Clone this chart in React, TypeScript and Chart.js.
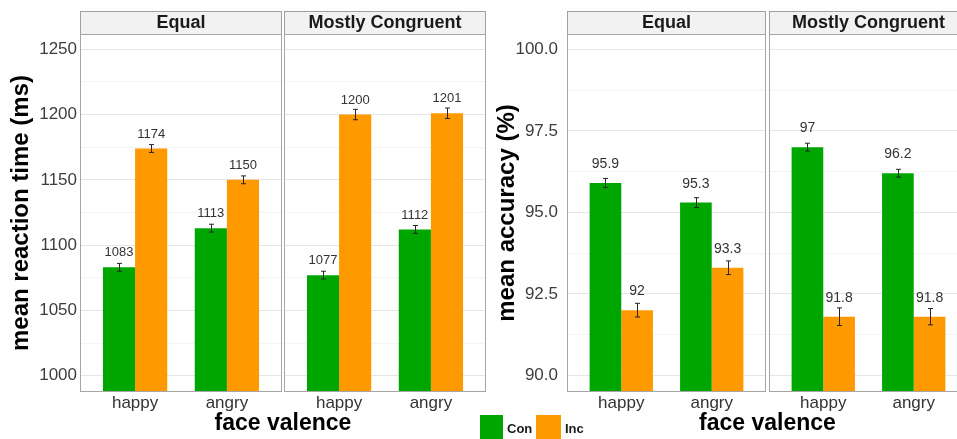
import React, { useEffect, useRef } from 'react';
import { Chart, registerables } from 'chart.js';

Chart.register(...registerables);

// ---------- data ----------
const valences = ['happy', 'angry'];
const facets = ['Equal', 'Mostly Congruent'];
const conditions = ['Con', 'Inc'];
const conColor = '#00A600';
const incColor = '#FF9900';

// order: Equal-happy, Equal-angry, Mostly Congruent-happy, Mostly Congruent-angry
const rtCon = [1083, 1113, 1077, 1112];
const rtInc = [1174, 1150, 1200, 1201];
const rtConSE = [3, 3, 3, 3];
const rtIncSE = [3, 3, 4, 4];
const rtTicks = [1000, 1050, 1100, 1150, 1200, 1250];
const rtTickLabels = ['1000', '1050', '1100', '1150', '1200', '1250'];

const accCon = [95.9, 95.3, 97.0, 96.2];
const accInc = [92.0, 93.3, 91.8, 91.8];
const accConSE = [0.14, 0.15, 0.12, 0.12];
const accIncSE = [0.21, 0.21, 0.27, 0.25];
const accTicks = [90, 92.5, 95, 97.5, 100];
const accTickLabels = ['90.0', '92.5', '95.0', '97.5', '100.0'];

const FONT = "'Liberation Sans', Arial, Helvetica, sans-serif";

type PanelCfg = {
  left: number;
  width: number;
  yAxisWidth: number;
  tickPad: number;
  titlePad: number;
  yMin: number;
  yMax: number;
  gap: number;
  con: number[];
  inc: number[];
  conSE: number[];
  incSE: number[];
  ticks: number[];
  tickLabels: string[];
  yTitle: string;
  labelOffset: number;
  labelSize: number;
  fmt: (v: number) => string;
};

const FACET_SPAN = 2.2; // 0.4 .. 2.6 per facet (discrete expansion)
const STRIP_TOP = 11;

function facetStart(f: number, gap: number) {
  return 0.4 + f * (FACET_SPAN + gap);
}
function facetEnd(f: number, gap: number) {
  return 2.6 + f * (FACET_SPAN + gap);
}
function xPos(i: number, gap: number) {
  const f = Math.floor(i / valences.length);
  const v = i % valences.length;
  return 1 + v + f * (FACET_SPAN + gap);
}

function withMinor(major: number[]) {
  const out: number[] = [];
  major.forEach((m, i) => {
    out.push(m);
    if (i < major.length - 1) out.push((m + major[i + 1]) / 2);
  });
  return out;
}

const facetPlugin = {
  id: 'facets',
  beforeDatasetsDraw(chart: any, _args: any, opts: any) {
    const cfg: PanelCfg = opts.cfg;
    const { ctx, chartArea } = chart;
    const x = chart.scales.x;
    ctx.save();
    // white gaps between facets
    for (let f = 0; f < facets.length - 1; f++) {
      const g0 = x.getPixelForValue(facetEnd(f, cfg.gap));
      const g1 = x.getPixelForValue(facetStart(f + 1, cfg.gap));
      ctx.fillStyle = '#ffffff';
      ctx.fillRect(g0, STRIP_TOP, g1 - g0, chartArea.bottom - STRIP_TOP);
    }
    // strips
    facets.forEach((name, f) => {
      const x0 = Math.round(x.getPixelForValue(facetStart(f, cfg.gap)));
      const x1 = Math.round(x.getPixelForValue(facetEnd(f, cfg.gap)));
      const h = chartArea.top - STRIP_TOP;
      ctx.fillStyle = '#F2F2F2';
      ctx.fillRect(x0, STRIP_TOP, x1 - x0, h);
      ctx.strokeStyle = '#A0A0A0';
      ctx.lineWidth = 1;
      ctx.strokeRect(x0 + 0.5, STRIP_TOP + 0.5, x1 - x0 - 1, h);
      ctx.fillStyle = '#1a1a1a';
      ctx.font = `bold 18px ${FONT}`;
      ctx.textAlign = 'center';
      ctx.textBaseline = 'middle';
      ctx.fillText(name, (x0 + x1) / 2, STRIP_TOP + h / 2 + 1);
    });
    ctx.restore();
  },
  afterDatasetsDraw(chart: any, _args: any, opts: any) {
    const cfg: PanelCfg = opts.cfg;
    const { ctx, chartArea } = chart;
    const x = chart.scales.x;
    const y = chart.scales.y;
    ctx.save();
    chart.data.datasets.forEach((ds: any, di: number) => {
      const meta = chart.getDatasetMeta(di);
      meta.data.forEach((bar: any, i: number) => {
        const v = ds.data[i].y;
        const se = ds.se[i];
        const yt = y.getPixelForValue(v + se);
        const yb = y.getPixelForValue(v - se);
        const bx = Math.round(bar.x) + 0.5;
        ctx.strokeStyle = '#262626';
        ctx.lineWidth = 1;
        ctx.beginPath();
        ctx.moveTo(bx, yt);
        ctx.lineTo(bx, yb);
        ctx.moveTo(bx - 2.5, yt);
        ctx.lineTo(bx + 2.5, yt);
        ctx.moveTo(bx - 2.5, yb);
        ctx.lineTo(bx + 2.5, yb);
        ctx.stroke();
        ctx.fillStyle = '#333333';
        ctx.font = `${cfg.labelSize}px ${FONT}`;
        ctx.textAlign = 'center';
        ctx.textBaseline = 'middle';
        ctx.fillText(cfg.fmt(v), bar.x, y.getPixelForValue(v) - cfg.labelOffset);
      });
    });
    // panel borders
    facets.forEach((_n, f) => {
      const x0 = Math.round(x.getPixelForValue(facetStart(f, cfg.gap)));
      const x1 = Math.round(x.getPixelForValue(facetEnd(f, cfg.gap)));
      ctx.strokeStyle = '#A6A6A6';
      ctx.lineWidth = 1;
      ctx.strokeRect(x0 + 0.5, Math.round(chartArea.top) + 0.5, x1 - x0 - 1, Math.round(chartArea.bottom - chartArea.top) - 1);
    });
    ctx.restore();
  },
};

function PanelChart({ cfg }: { cfg: PanelCfg }) {
  const ref = useRef<HTMLCanvasElement>(null);
  useEffect(() => {
    const canvas = ref.current;
    if (!canvas) return;
    const xTickPositions = rtCon.map((_v, i) => xPos(i, cfg.gap));
    const yTickValues = withMinor(cfg.ticks);
    const chart = new Chart(canvas, {
      type: 'bar',
      data: {
        datasets: [
          {
            label: conditions[0],
            data: cfg.con.map((v, i) => ({ x: xPos(i, cfg.gap), y: v })),
            se: cfg.conSE,
            backgroundColor: conColor,
            borderWidth: 0,
          } as any,
          {
            label: conditions[1],
            data: cfg.inc.map((v, i) => ({ x: xPos(i, cfg.gap), y: v })),
            se: cfg.incSE,
            backgroundColor: incColor,
            borderWidth: 0,
          } as any,
        ],
      },
      options: {
        animation: false,
        responsive: false,
        devicePixelRatio: 1,
        categoryPercentage: 0.7,
        barPercentage: 1.0,
        layout: { padding: { top: 34, left: 0, right: 0, bottom: 0 } },
        plugins: {
          legend: { display: false },
          tooltip: { enabled: false },
          facets: { cfg },
        } as any,
        scales: {
          x: {
            type: 'linear',
            offset: false,
            min: 0.4,
            max: facetEnd(facets.length - 1, cfg.gap),
            grid: { display: false, drawTicks: false },
            border: { display: false },
            afterBuildTicks: (scale: any) => {
              scale.ticks = xTickPositions.map((v) => ({ value: v }));
            },
            afterFit: (scale: any) => {
              scale.height = 47;
            },
            ticks: {
              autoSkip: false,
              maxRotation: 0,
              padding: 1,
              color: '#333333',
              font: { family: FONT, size: 17 },
              callback: (_v: any, index: number) => valences[index % valences.length],
            },
            title: {
              display: true,
              text: 'face valence',
              color: '#000000',
              font: { family: FONT, size: 23, weight: 'bold' },
              padding: { top: 0, bottom: 2 },
            },
          },
          y: {
            type: 'linear',
            min: cfg.yMin,
            max: cfg.yMax,
            afterBuildTicks: (scale: any) => {
              scale.ticks = yTickValues.map((v) => ({ value: v }));
            },
            afterFit: (scale: any) => {
              scale.width = cfg.yAxisWidth;
            },
            grid: {
              drawTicks: false,
              color: (c: any) => (c.index % 2 === 0 ? '#E6E6E6' : '#F4F4F4'),
              lineWidth: 1,
            },
            border: { display: false },
            ticks: {
              padding: cfg.tickPad,
              color: '#3d3d3d',
              font: { family: FONT, size: 17 },
              callback: (_v: any, index: number) => (index % 2 === 0 ? cfg.tickLabels[index / 2] : ''),
            },
            title: {
              display: true,
              text: cfg.yTitle,
              color: '#000000',
              font: { family: FONT, size: 24, weight: 'bold' },
              padding: { top: cfg.titlePad, bottom: 0 },
            },
          },
        },
      } as any,
      plugins: [facetPlugin as any],
    });
    return () => chart.destroy();
  }, [cfg]);
  return (
    <canvas
      ref={ref}
      width={cfg.width}
      height={439}
      style={{ position: 'absolute', left: cfg.left, top: 0, width: cfg.width, height: 439, display: 'block' }}
    />
  );
}

const rtPanel: PanelCfg = {
  left: 0,
  width: 486,
  yAxisWidth: 80,
  tickPad: 3,
  titlePad: 7,
  yMin: 987.5,
  yMax: 1261.7,
  gap: 0.022,
  con: rtCon,
  inc: rtInc,
  conSE: rtConSE,
  incSE: rtIncSE,
  ticks: rtTicks,
  tickLabels: rtTickLabels,
  yTitle: 'mean reaction time (ms)',
  labelOffset: 14.5,
  labelSize: 13,
  fmt: (v) => String(Math.round(v)),
};

const accPanel: PanelCfg = {
  left: 490,
  width: 478,
  yAxisWidth: 77,
  tickPad: 9,
  titlePad: 3,
  yMin: 89.49,
  yMax: 100.47,
  gap: 0.033,
  con: accCon,
  inc: accInc,
  conSE: accConSE,
  incSE: accIncSE,
  ticks: accTicks,
  tickLabels: accTickLabels,
  yTitle: 'mean accuracy (%)',
  labelOffset: 18.7,
  labelSize: 14,
  fmt: (v) => String(Number(v.toFixed(1))),
};

export default function App() {
  const legendText: React.CSSProperties = {
    position: 'absolute',
    top: 417,
    height: 24,
    lineHeight: '24px',
    fontFamily: FONT,
    fontWeight: 'bold',
    fontSize: 13,
    color: '#1a1a1a',
  };
  return (
    <div
      style={{
        position: 'absolute',
        left: 0,
        top: 0,
        width: 957,
        height: 439,
        overflow: 'hidden',
        background: '#ffffff',
      }}
    >
      <PanelChart cfg={rtPanel} />
      <PanelChart cfg={accPanel} />
      <div style={{ position: 'absolute', left: 480, top: 415, width: 23, height: 24, background: conColor }} />
      <div style={{ ...legendText, left: 507 }}>{conditions[0]}</div>
      <div style={{ position: 'absolute', left: 536, top: 415, width: 25, height: 24, background: incColor }} />
      <div style={{ ...legendText, left: 565 }}>{conditions[1]}</div>
    </div>
  );
}
